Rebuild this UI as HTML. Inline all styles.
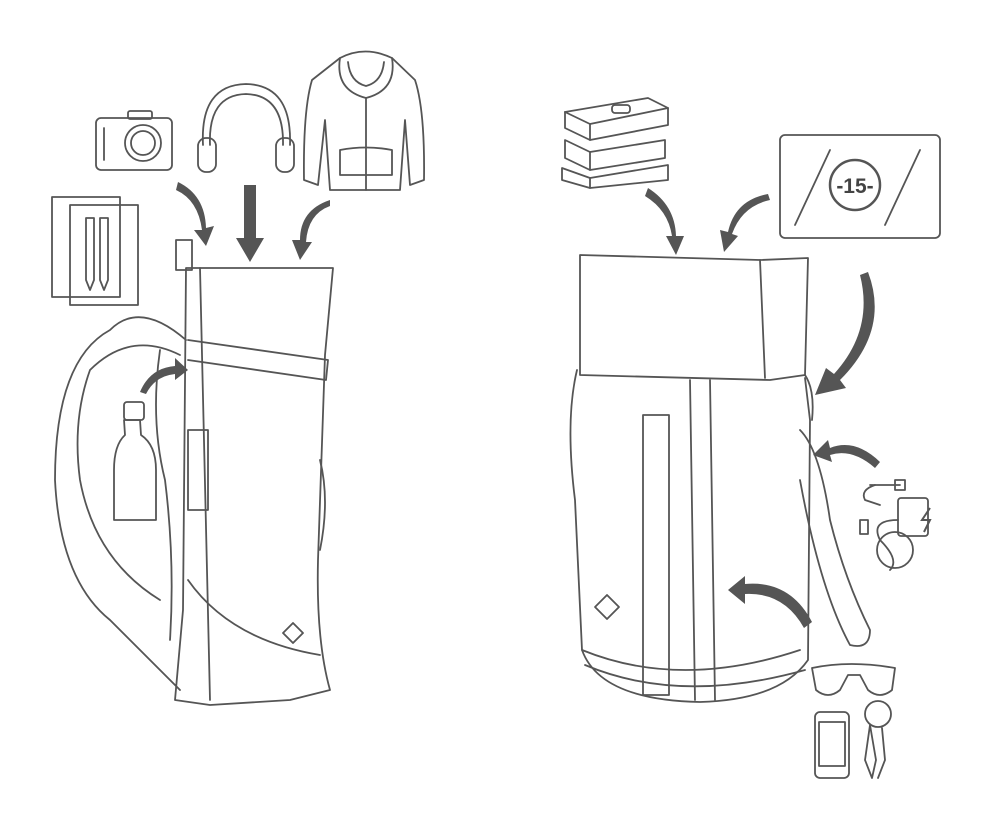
<!DOCTYPE html>
<html><head><meta charset="utf-8"><style>
html,body{margin:0;padding:0;background:#fff;}
svg{display:block;}
text{font-family:"Liberation Sans",sans-serif;}
</style></head><body>
<svg width="998" height="834" viewBox="0 0 998 834" xmlns="http://www.w3.org/2000/svg">
<g fill="none" stroke="#555" stroke-width="1.8" stroke-linejoin="round" stroke-linecap="round">
<rect x="96" y="118" width="76" height="52" rx="5"/>
<rect x="128" y="111" width="24" height="8" rx="2"/>
<circle cx="143" cy="143" r="18"/><circle cx="143" cy="143" r="12"/>
<line x1="104" y1="128" x2="104" y2="160"/>
<path d="M203 145 Q200 85 246 84 Q292 85 290 145"/>
<path d="M210 145 Q208 95 246 94 Q284 95 283 145"/>
<rect x="198" y="138" width="18" height="34" rx="8"/>
<rect x="276" y="138" width="18" height="34" rx="8"/>
<path d="M340 58 Q365 45 392 58 L415 80 Q425 110 424 180 L410 185 L405 120 L400 190 L330 190 L325 120 L318 185 L304 180 Q303 110 312 80 Z"/>
<path d="M340 58 Q335 90 366 98 Q397 90 392 58"/>
<path d="M348 62 Q350 82 366 86 Q382 82 384 62"/>
<line x1="366" y1="98" x2="366" y2="190"/>
<path d="M340 150 Q366 145 392 150 L392 175 L340 175 Z"/>
<rect x="52" y="197" width="68" height="100"/>
<rect x="70" y="205" width="68" height="100"/>
<path d="M86 218 L94 218 L94 280 L90 290 L86 280 Z"/>
<path d="M100 218 L108 218 L108 280 L104 290 L100 280 Z"/>
<path d="M186 268 L333 268 L325 355 L318 560 Q316 640 330 690 L290 700 L210 705 L175 700 L183 610 L186 268 Z"/>
<path d="M188 340 L328 360 L326 380 L188 360"/>
<line x1="200" y1="268" x2="210" y2="700"/>
<path d="M188 580 Q230 640 320 655"/>
<rect x="188" y="430" width="20" height="80"/>
<rect x="176" y="240" width="16" height="30"/>
<path d="M186 340 Q140 300 110 330 Q55 360 55 480 Q60 580 110 620 L180 690"/>
<path d="M180 355 Q130 330 90 370 Q72 420 80 480 Q95 560 160 600"/>
<path d="M160 350 Q150 420 165 480 Q175 560 170 640"/>
<path d="M293 623 L303 633 L293 643 L283 633 Z"/>
<path d="M320 460 Q330 500 320 550"/>
<path d="M124 420 L140 420 L141 435 Q156 445 156 470 L156 520 L114 520 L114 470 Q114 445 125 435 Z"/>
<rect x="124" y="402" width="20" height="18" rx="3"/>
</g>
<g fill="#555" stroke="none">
<path d="M178 182 Q205 195 206 228 L214 226 L206 246 L194 230 L202 230 Q198 200 176 190 Z"/>
<path d="M244 185 L256 185 L256 238 L264 238 L250 262 L236 238 L244 238 Z"/>
<path d="M330 200 Q300 210 300 240 L292 240 L300 260 L312 242 L306 242 Q308 214 330 206 Z"/>
<path d="M140 392 Q150 368 175 366 L175 358 L188 370 L175 380 L175 374 Q155 376 146 394 Z"/>
</g>
<g fill="none" stroke="#555" stroke-width="1.8" stroke-linejoin="round" stroke-linecap="round">
<path d="M565 112 L648 98 L668 108 L668 125 L590 140 L565 128 Z"/>
<line x1="565" y1="112" x2="590" y2="124"/><line x1="590" y1="124" x2="668" y2="108"/><line x1="590" y1="124" x2="590" y2="140"/>
<path d="M565 140 L590 152 L665 140 L665 158 L590 170 L565 158 Z"/>
<line x1="590" y1="152" x2="590" y2="170"/>
<path d="M562 168 L590 178 L668 165 L668 180 L590 188 L562 180 Z"/>
<line x1="590" y1="178" x2="590" y2="188"/>
<rect x="612" y="105" width="18" height="8" rx="3"/>
<rect x="780" y="135" width="160" height="103" rx="5"/>
<line x1="795" y1="225" x2="830" y2="150"/>
<line x1="885" y1="225" x2="920" y2="150"/>
<circle cx="855" cy="185" r="25" stroke-width="2.5"/>
<path d="M580 255 L760 260 L808 258 L805 375 L770 380 L580 375 Z"/>
<line x1="760" y1="260" x2="765" y2="378"/>
<path d="M577 370 Q565 420 575 500 L582 650 Q600 700 700 702 Q780 700 808 660 L810 420 L805 378"/>
<path d="M582 650 Q680 690 800 650"/>
<path d="M585 665 Q680 705 805 670"/>
<rect x="643" y="415" width="26" height="280"/>
<line x1="690" y1="380" x2="695" y2="700"/>
<line x1="710" y1="380" x2="715" y2="700"/>
<path d="M595 607 L607 595 L619 607 L607 619 Z"/>
<path d="M800 430 Q820 450 830 520 Q845 580 870 630 Q870 650 850 645 Q820 590 800 480"/>
<path d="M805 375 Q815 390 812 420"/>
<rect x="898" y="498" width="30" height="38" rx="3"/>
<path d="M898 520 Q870 520 880 540 Q900 560 890 570"/>
<circle cx="895" cy="550" r="18"/>
<path d="M870 485 L900 485"/><rect x="895" y="480" width="10" height="10"/>
<path d="M875 485 Q860 490 865 500 L880 505"/>
<rect x="860" y="520" width="8" height="14"/>
<path d="M812 668 Q850 660 895 668 L892 690 Q880 700 868 690 L860 675 L848 675 L840 690 Q828 700 816 690 Z"/>
<rect x="815" y="712" width="34" height="66" rx="5"/>
<rect x="819" y="722" width="26" height="44"/>
<circle cx="878" cy="714" r="13"/>
<path d="M870 725 L865 760 L872 778 L876 760 Z"/>
<path d="M882 728 L885 760 L878 778"/>
</g>
<g fill="#555" stroke="none">
<path d="M648 188 Q675 205 676 236 L684 236 L676 255 L666 236 L672 236 Q668 210 645 196 Z"/>
<path d="M768 194 Q735 200 728 232 L720 230 L724 252 L738 236 L732 234 Q742 206 770 200 Z"/>
<path d="M868 272 Q890 330 840 380 L846 388 L815 395 L826 368 L834 374 Q874 330 860 275 Z"/>
<path d="M880 462 Q855 438 830 448 L828 440 L813 455 L832 462 L830 455 Q852 448 875 468 Z"/>
<path d="M812 622 Q790 580 745 584 L745 576 L728 590 L745 604 L745 594 Q784 592 804 628 Z"/>
</g>
<text x="855" y="193" text-anchor="middle" font-size="21" font-weight="bold" fill="#444">-15-</text>
<path d="M930 508 L922 520 L930 520 L924 532" stroke="#555" stroke-width="2" fill="none"/>
</svg>
</body></html>
